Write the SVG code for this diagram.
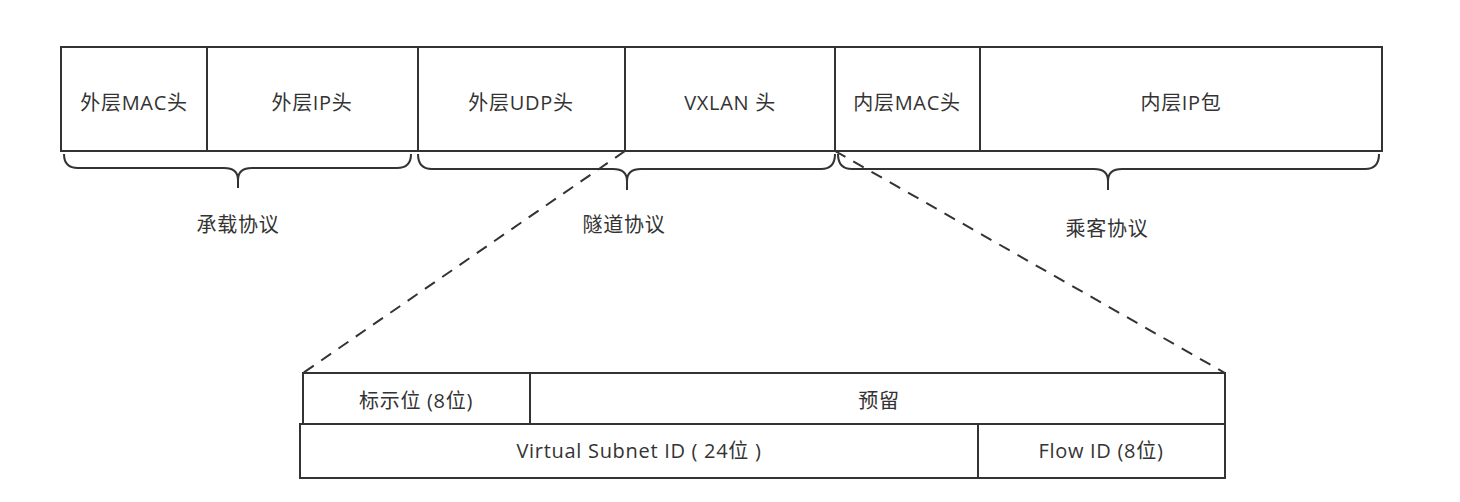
<svg xmlns="http://www.w3.org/2000/svg" width="1460" height="502" viewBox="0 0 1460 502">
<style>
.box{fill:#fff;stroke:#333;stroke-width:2}
.ln{fill:none;stroke:#333;stroke-width:2}
.br{fill:none;stroke:#333;stroke-width:2;stroke-linejoin:round}
.dash{fill:none;stroke:#333;stroke-width:2;stroke-dasharray:12 9}
text{font-family:"Open Sans","Noto Sans CJK SC","Microsoft YaHei",sans-serif;font-size:20px;letter-spacing:0.7px;fill:#333;text-anchor:middle;dominant-baseline:central}
</style>
<rect width="1460" height="502" fill="#fff"/>
<g id="connectors">
<line class="dash" x1="625" y1="151" x2="303" y2="373"/>
<line class="dash" x1="835" y1="151" x2="1225" y2="373"/>
</g>
<g id="header-row">
<rect class="box" x="61" y="47" width="1321" height="104"/>
<line class="ln" x1="207" y1="47" x2="207" y2="151"/>
<line class="ln" x1="418" y1="47" x2="418" y2="151"/>
<line class="ln" x1="625" y1="47" x2="625" y2="151"/>
<line class="ln" x1="835" y1="47" x2="835" y2="151"/>
<line class="ln" x1="980" y1="47" x2="980" y2="151"/>
</g>
<g id="outer-mac"><text x="134" y="102">外层MAC头</text></g>
<g id="outer-ip"><text x="312" y="102">外层IP头</text></g>
<g id="outer-udp"><text x="521" y="102">外层UDP头</text></g>
<g id="vxlan"><text x="730" y="102">VXLAN 头</text></g>
<g id="inner-mac"><text x="907" y="102">内层MAC头</text></g>
<g id="inner-ip"><text x="1181" y="102">内层IP包</text></g>
<g id="brace-carrier">
<path class="br" d="M64,154 Q64,168 78,168 L224,168 Q238,168 238,180 L238,188 M238,180 Q238,168 252,168 L397,168 Q411,168 411,154"/>
<text x="238" y="224">承载协议</text>
</g>
<g id="brace-tunnel">
<path class="br" d="M418,154 Q418,169 432,169 L613,169 Q627,169 627,181 L627,190 M627,181 Q627,169 641,169 L821,169 Q835,169 835,154"/>
<text x="624" y="224">隧道协议</text>
</g>
<g id="brace-passenger">
<path class="br" d="M838,154 Q838,169 852,169 L1094,169 Q1108,169 1108,181 L1108,190 M1108,181 Q1108,169 1122,169 L1365,169 Q1379,169 1379,154"/>
<text x="1107" y="228">乘客协议</text>
</g>
<g id="vxlan-row1">
<rect class="box" x="303" y="373" width="922" height="51"/>
<line class="ln" x1="530" y1="373" x2="530" y2="424"/>
</g>
<g id="flag"><text x="416" y="400">标示位 (8位)</text></g>
<g id="reserved"><text x="879" y="400">预留</text></g>
<g id="vxlan-row2">
<rect class="box" x="300" y="424" width="925" height="54"/>
<line class="ln" x1="978" y1="424" x2="978" y2="478"/>
</g>
<g id="vsid"><text x="639" y="450">Virtual Subnet ID ( 24位 )</text></g>
<g id="flowid"><text x="1101" y="450">Flow ID (8位)</text></g>
</svg>
